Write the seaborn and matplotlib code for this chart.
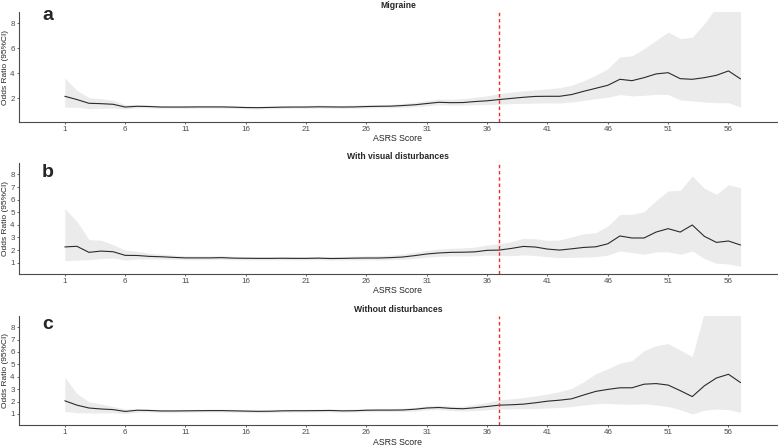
import matplotlib
matplotlib.use('Agg')
import matplotlib.pyplot as plt
import seaborn as sns
import pandas as pd

# ASRS score on the x axis
asrs_score = list(range(1, 58))
cutoff_score = 37

# a: Migraine
migraine_or = [2.16, 1.90, 1.60, 1.57, 1.52, 1.30, 1.36, 1.34, 1.30, 1.30,
               1.30, 1.31, 1.31, 1.31, 1.29, 1.26, 1.25, 1.27, 1.29, 1.30,
               1.30, 1.32, 1.31, 1.30, 1.31, 1.34, 1.36, 1.37, 1.42, 1.48,
               1.58, 1.68, 1.65, 1.66, 1.74, 1.80, 1.90, 1.99, 2.08, 2.15,
               2.16, 2.16, 2.30, 2.56, 2.80, 3.04, 3.52, 3.41, 3.65, 3.95,
               4.05, 3.57, 3.52, 3.65, 3.84, 4.19, 3.55]
migraine_upper = [3.63, 2.64, 2.05, 1.97, 1.84, 1.50, 1.50, 1.46, 1.42, 1.41,
                  1.41, 1.42, 1.42, 1.42, 1.40, 1.37, 1.36, 1.38, 1.40, 1.41,
                  1.42, 1.44, 1.43, 1.43, 1.45, 1.48, 1.50, 1.52, 1.58, 1.68,
                  1.82, 1.93, 1.92, 1.97, 2.08, 2.20, 2.38, 2.50, 2.59, 2.68,
                  2.75, 2.85, 3.04, 3.40, 3.84, 4.37, 5.31, 5.39, 5.97, 6.64,
                  7.30, 6.77, 6.90, 7.97, 9.30, 10.5, 10.5]
migraine_lower = [1.30, 1.28, 1.17, 1.20, 1.23, 1.15, 1.24, 1.23, 1.20, 1.20,
                  1.20, 1.21, 1.21, 1.21, 1.19, 1.16, 1.15, 1.17, 1.19, 1.20,
                  1.20, 1.21, 1.20, 1.19, 1.20, 1.22, 1.24, 1.25, 1.28, 1.33,
                  1.40, 1.48, 1.45, 1.45, 1.48, 1.50, 1.53, 1.57, 1.60, 1.62,
                  1.63, 1.62, 1.70, 1.83, 1.97, 2.08, 2.30, 2.19, 2.24, 2.32,
                  2.30, 1.87, 1.79, 1.70, 1.65, 1.65, 1.30]

# b: With visual disturbances
visual_or = [2.25, 2.30, 1.82, 1.92, 1.87, 1.58, 1.57, 1.50, 1.47, 1.42,
             1.38, 1.38, 1.38, 1.40, 1.36, 1.35, 1.34, 1.34, 1.35, 1.34,
             1.34, 1.36, 1.33, 1.34, 1.36, 1.37, 1.37, 1.40, 1.45, 1.56,
             1.69, 1.77, 1.82, 1.83, 1.86, 1.98, 2.00, 2.13, 2.29, 2.24,
             2.08, 2.00, 2.10, 2.21, 2.26, 2.50, 3.12, 2.96, 2.96, 3.43,
             3.70, 3.43, 3.99, 3.09, 2.61, 2.72, 2.40]
visual_upper = [5.29, 4.28, 2.83, 2.78, 2.43, 2.00, 1.90, 1.75, 1.68, 1.60,
                1.54, 1.53, 1.53, 1.55, 1.50, 1.48, 1.47, 1.47, 1.48, 1.47,
                1.47, 1.50, 1.47, 1.49, 1.52, 1.54, 1.55, 1.60, 1.68, 1.82,
                1.97, 2.07, 2.14, 2.17, 2.24, 2.40, 2.50, 2.67, 2.93, 2.90,
                2.77, 2.80, 3.04, 3.30, 3.38, 3.91, 4.83, 4.83, 5.05, 5.94,
                6.69, 6.74, 7.88, 6.90, 6.42, 7.20, 6.95]
visual_lower = [1.16, 1.20, 1.24, 1.32, 1.37, 1.20, 1.30, 1.30, 1.28, 1.26,
                1.24, 1.24, 1.24, 1.26, 1.23, 1.22, 1.22, 1.22, 1.23, 1.22,
                1.22, 1.24, 1.20, 1.21, 1.22, 1.23, 1.22, 1.24, 1.27, 1.34,
                1.44, 1.50, 1.53, 1.53, 1.55, 1.60, 1.58, 1.55, 1.62, 1.57,
                1.47, 1.40, 1.42, 1.44, 1.48, 1.60, 1.93, 1.80, 1.67, 1.86,
                1.86, 1.67, 1.93, 1.32, 0.95, 0.90, 0.70]

# c: Without disturbances
without_or = [2.06, 1.71, 1.48, 1.40, 1.35, 1.20, 1.30, 1.28, 1.24, 1.24,
              1.25, 1.26, 1.27, 1.27, 1.25, 1.23, 1.21, 1.22, 1.25, 1.26,
              1.26, 1.27, 1.28, 1.25, 1.26, 1.30, 1.31, 1.31, 1.32, 1.38,
              1.48, 1.52, 1.45, 1.42, 1.50, 1.60, 1.71, 1.74, 1.79, 1.90,
              2.03, 2.11, 2.22, 2.53, 2.82, 2.98, 3.11, 3.11, 3.40, 3.45,
              3.33, 2.88, 2.40, 3.27, 3.90, 4.20, 3.53]
without_upper = [3.96, 2.64, 1.98, 1.80, 1.60, 1.40, 1.42, 1.40, 1.36, 1.35,
                 1.36, 1.37, 1.38, 1.38, 1.36, 1.34, 1.32, 1.33, 1.36, 1.37,
                 1.37, 1.38, 1.40, 1.37, 1.38, 1.42, 1.44, 1.44, 1.46, 1.54,
                 1.65, 1.70, 1.63, 1.62, 1.78, 1.92, 2.14, 2.22, 2.32, 2.46,
                 2.61, 2.80, 3.06, 3.59, 4.25, 4.64, 5.10, 5.30, 6.10, 6.50,
                 6.68, 6.15, 5.62, 9.20, 10.5, 10.5, 10.5]
without_lower = [1.20, 1.10, 1.08, 1.08, 1.10, 1.02, 1.15, 1.15, 1.13, 1.13,
                 1.14, 1.15, 1.16, 1.16, 1.14, 1.12, 1.10, 1.11, 1.14, 1.15,
                 1.15, 1.16, 1.17, 1.14, 1.15, 1.18, 1.19, 1.19, 1.19, 1.23,
                 1.32, 1.35, 1.28, 1.25, 1.27, 1.33, 1.40, 1.41, 1.42, 1.44,
                 1.48, 1.52, 1.60, 1.72, 1.82, 1.85, 1.80, 1.78, 1.82, 1.72,
                 1.60, 1.35, 1.00, 1.30, 1.40, 1.35, 1.13]

panel_titles = ['Migraine', 'With visual disturbances', 'Without disturbances']
panel_letters = ['a', 'b', 'c']
x_ticks = list(range(1, 57, 5))
y_ticks_list = [[2, 4, 6, 8], list(range(1, 9)), list(range(1, 9))]

sns.set_theme(style='ticks')
plt.rcParams['font.family'] = ['Liberation Sans', 'DejaVu Sans']

fig = plt.figure(figsize=(7.78, 4.47), dpi=100)

# axes rectangles in figure fractions
rects = [[0.0244, 0.727, 0.974, 0.246],
         [0.0244, 0.387, 0.974, 0.248],
         [0.0244, 0.049, 0.974, 0.244]]
letter_y = [0.955, 0.604, 0.264]

series = [(migraine_or, migraine_lower, migraine_upper),
          (visual_or, visual_lower, visual_upper),
          (without_or, without_lower, without_upper)]

axis_col = '#4a4a4a'
for i, (odds, lower, upper) in enumerate(series):
    df = pd.DataFrame({'score': asrs_score, 'or': odds,
                       'lower': lower, 'upper': upper})
    ax = fig.add_axes(rects[i])
    ax.fill_between(df['score'], df['lower'], df['upper'],
                    color='#EBEBEB', lw=0)
    sns.lineplot(data=df, x='score', y='or', color='#2b2b2b', lw=0.8, ax=ax)
    ax.axvline(cutoff_score, color='#F22B2B', lw=1.0, ls=(0, (2.5, 2)))

    ax.set_xlim(-2.8, 60.0)
    ax.set_ylim(0.1, 8.9)
    ax.set_xticks(x_ticks)
    ax.set_yticks(y_ticks_list[i])
    ax.tick_params(length=1.6, width=0.6, colors=axis_col, labelsize=5.8,
                   pad=1.5, labelcolor='#4D4D4D')
    for side in ['top', 'right']:
        ax.spines[side].set_visible(False)
    for side in ['left', 'bottom']:
        ax.spines[side].set_color(axis_col)
        ax.spines[side].set_linewidth(0.8)

    ax.set_title(panel_titles[i], fontsize=6.2, fontweight='bold', pad=3)
    ax.set_xlabel('ASRS Score', fontsize=6.3, labelpad=0.8)
    ax.set_ylabel('Odds Ratio (95%CI)', fontsize=6)
    ax.yaxis.set_label_coords(-0.013, 0.5)

    fig.text(0.054, letter_y[i], panel_letters[i], fontsize=14,
             fontweight='bold', va='baseline', ha='left')

fig.savefig('out.png', dpi=100)
